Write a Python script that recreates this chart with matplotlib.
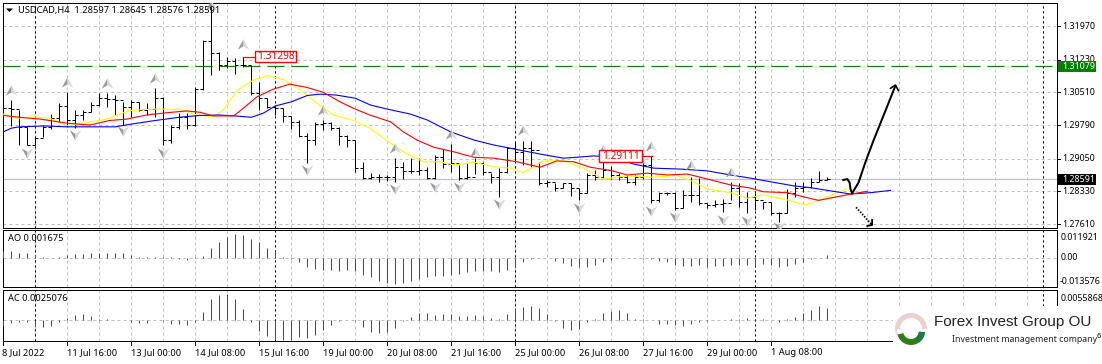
import matplotlib
matplotlib.use("Agg")
import matplotlib.pyplot as plt
import numpy as np
from matplotlib.path import Path
from matplotlib.patches import Rectangle, Wedge, Polygon

plt.rcParams['font.family'] = ['Noto Sans', 'DejaVu Sans']
plt.rcParams['lines.scale_dashes'] = False

high = [1.3023,1.3034,1.3012,1.2975,1.2952,1.2979,1.3003,1.3027,1.3052,1.3012,1.3011,1.3030,1.3049,1.3049,1.3044,1.3030,1.3033,1.3030,1.3028,1.3060,
        1.3040,1.2979,1.3005,1.3005,1.3062,1.3166,1.3245,1.3139,1.3128,1.3126,1.31298,1.3111,1.3074,1.3038,1.3023,1.3016,1.2999,1.2989,1.2961,1.2985,
        1.2989,1.2986,1.2975,1.2957,1.2947,1.2898,1.2874,1.2871,1.2869,1.2906,1.2898,1.2906,1.2906,1.2887,1.2913,1.2926,1.2937,1.2891,1.2895,1.2906,
        1.2898,1.2873,1.2884,1.2931,1.2944,1.2944,1.2944,1.2898,1.2858,1.2851,1.2852,1.2851,1.2840,1.2874,1.2880,1.2902,1.2889,1.2873,1.2869,1.2869,
        1.2895,1.29111,1.2832,1.2832,1.2832,1.2836,1.2865,1.2862,1.2808,1.2813,1.2815,1.2854,1.2852,1.2832,1.2830,1.2810,1.2810,1.2788,1.2837,1.2854,
        1.2854,1.2862,1.2878,1.28645]
low = [1.2986,1.2977,1.2934,1.2934,1.2935,1.2952,1.2970,1.2986,1.2975,1.2973,1.2990,1.3008,1.3021,1.3018,1.3001,1.2979,1.2997,1.3010,1.3001,1.2997,
       1.2934,1.2940,1.2970,1.2970,1.2977,1.3056,1.3089,1.3100,1.3104,1.3091,1.3107,1.3045,1.3011,1.3016,1.3001,1.2986,1.2970,1.2953,1.2896,1.2934,
       1.2968,1.2968,1.2934,1.2931,1.2876,1.2860,1.2860,1.2854,1.2856,1.2854,1.2860,1.2873,1.2869,1.2860,1.2860,1.2884,1.2876,1.2858,1.2860,1.2871,
       1.2869,1.2851,1.2821,1.2873,1.2898,1.2891,1.2887,1.2847,1.2842,1.2834,1.2840,1.2823,1.2814,1.2829,1.2857,1.2862,1.2860,1.2858,1.2851,1.2847,
       1.2860,1.2807,1.2810,1.2825,1.2792,1.2796,1.2810,1.2803,1.2796,1.2799,1.2788,1.2814,1.2798,1.2785,1.2792,1.2793,1.2781,1.2766,1.2785,1.2821,
       1.2832,1.2840,1.2854,1.28576]
close = [1.3016,1.3014,1.2975,1.2934,1.2950,1.2975,1.2994,1.3021,1.2990,1.3001,1.3008,1.3023,1.3038,1.3036,1.3034,1.3018,1.3030,1.3012,1.3014,1.3038,
         1.2946,1.2975,1.2997,1.2979,1.3058,1.3165,1.3137,1.3111,1.3121,1.3111,1.3111,1.3049,1.3038,1.3018,1.3016,1.2999,1.2986,1.2955,1.2946,1.2981,
         1.2984,1.2973,1.2955,1.2946,1.2884,1.2862,1.2865,1.2864,1.2865,1.2887,1.2878,1.2878,1.2880,1.2862,1.2909,1.2893,1.2895,1.2862,1.2865,1.2895,
         1.2876,1.2865,1.2876,1.2928,1.2920,1.2928,1.2924,1.2851,1.2854,1.2840,1.2851,1.2840,1.2830,1.2869,1.2865,1.2880,1.2869,1.2864,1.2854,1.2865,
         1.2891,1.2814,1.2829,1.2830,1.2796,1.2825,1.2825,1.2807,1.2803,1.2805,1.2807,1.2840,1.2810,1.2821,1.2814,1.2809,1.2785,1.2786,1.2830,1.2840,
         1.2843,1.2854,1.2858,1.28591]
first_open = 1.3020
open_ = [first_open] + close[:-1]

blue_x = [0,1,2,5,8,14,16,19,22,24.5,27,29,31,32.5,34,36,38,39.6,41.6,44,45.9,48,50.9,53,55.9,58.8,61.3,64.2,67.1,70,71.7,73.8,76.3,78.8,81.3,84.6,88,90.9,93.4,95.9,98.8,100.9,103.4,105.9,108.4,110.9]
blue_y = [1.2964,1.2972,1.2975,1.2977,1.2975,1.2975,1.2981,1.2989,1.2996,1.3000,1.3001,1.2999,1.2996,1.3005,1.3021,1.3030,1.3044,1.3047,1.3045,1.3038,1.3023,1.3014,1.3003,1.2990,1.2964,1.2946,1.2935,1.2925,1.2915,1.2906,1.2908,1.2911,1.2908,1.2893,1.2884,1.2882,1.2878,1.2869,1.2862,1.2854,1.2845,1.2841,1.2834,1.2827,1.2830,1.2835]
red_x = [0,2,4.6,8,10.8,13.3,15.4,17.9,20.4,22.9,24.6,26.2,28.8,30,31.7,33.75,35.8,37.9,40,42.1,43.75,45.8,48.4,50,51.7,53.8,56.3,58.8,61.3,64.2,67.1,69.2,71.3,73.4,75.9,78,80.5,83,85.5,88,90.9,93.4,95,98,100,101.9,104.2,106,108]
red_y = [1.3000,1.2996,1.2992,1.2983,1.2979,1.2989,1.2992,1.3001,1.3006,1.3010,1.3007,1.2999,1.2999,1.3016,1.3041,1.3058,1.3069,1.3062,1.3051,1.3030,1.3016,1.3001,1.2986,1.2964,1.2946,1.2930,1.2920,1.2908,1.2906,1.2898,1.2886,1.2900,1.2898,1.2886,1.2879,1.2869,1.2873,1.2869,1.2871,1.2860,1.2847,1.2840,1.2832,1.2830,1.2821,1.2813,1.2821,1.2827,1.2833]
yellow_x = [0,1.7,3.75,5.8,8,10.4,12.9,15.8,18.75,22,24.2,26.25,27.5,29.2,31.25,33.1,35,37,39.2,41.25,43.75,45.8,48.4,50,52.5,54.6,56.3,58.8,61.3,63.4,65,67.5,70,72.5,75,78,81.3,84.2,86.3,88,90.9,93,95,98,100.2,102,105.4]
yellow_y = [1.3003,1.2994,1.2997,1.2994,1.2977,1.2984,1.2992,1.3011,1.3014,1.3014,1.3001,1.2997,1.3012,1.3055,1.3078,1.3088,1.3079,1.3058,1.3027,1.3001,1.2989,1.2972,1.2939,1.2920,1.2898,1.2898,1.2891,1.2897,1.2887,1.2884,1.2874,1.2900,1.2900,1.2884,1.2860,1.2867,1.2864,1.2868,1.2854,1.2838,1.2830,1.2818,1.2825,1.2814,1.2803,1.2814,1.2838]

frac_up_x = [1,8,13,19,26,30,40,49,56,59,65,75,81,86,91]
frac_up_y = [1.3056,1.3073,1.3071,1.3082,1.3243,1.3157,1.3012,1.2928,1.2959,1.2920,1.2967,1.2925,1.2933,1.2891,1.2876]
frac_dn_x = [3,9,15,20,38,49,54,57,62,72,81,84,90,93,97]
frac_dn_y = [1.2917,1.2957,1.2966,1.2917,1.2880,1.2838,1.2842,1.2842,1.2805,1.2797,1.2790,1.2776,1.2770,1.2768,1.2755]

ao = [.0039,.0037,.0029,.0025,.0015,.0006,.0000,.0002,.0014,.0019,.0023,.0025,.0026,.0024,.0025,.0024,.0017,.0006,.0005,.0006,
      .0002,.0001,-.0006,-.0012,.0004,.0012,.0058,.0089,.0120,.0135,.0129,.0106,.0091,.0058,.0039,.0006,-.0006,-.0023,-.0054,-.0064,
      -.0071,-.0073,-.0077,-.0071,-.0081,-.0100,-.0116,-.0135,-.0149,-.0154,-.0147,-.0135,-.0125,-.0116,-.0110,-.0106,-.0100,-.0097,-.0087,-.0078,
      -.0077,-.0081,-.0082,-.0072,-.0054,-.0025,-.0008,.0000,-.0004,-.0019,-.0031,-.0048,-.0056,-.0054,-.0042,-.0027,-.0015,-.0004,-.0002,-.0003,
      -.0006,-.0008,-.0019,-.0027,-.0041,-.0048,-.0047,-.0046,-.0056,-.0048,-.0047,-.0046,-.0045,-.0044,-.0043,-.0039,-.0046,-.0054,-.0048,-.0037,
      -.0025,-.0006,-.0005,.001675]
ac = [-.0014,-.0007,-.0005,-.0006,-.0014,-.0015,-.0014,-.0005,.0003,.0010,.0011,.0007,.0002,.0001,.0000,-.0001,-.0006,-.0008,-.0007,-.0002,
      -.0003,-.0009,-.0010,-.0011,-.0005,.0015,.0043,.0051,.0054,.0043,.0022,-.0005,-.0025,-.0035,-.0042,-.0044,-.0043,-.0038,-.0039,-.0032,
      -.0022,-.0011,-.0004,-.0001,-.0003,-.0015,-.0027,-.0029,-.0027,-.0017,-.0003,.0006,.0014,.0013,.0010,.0012,.0011,.0007,.0008,.0010,
      .0007,.0004,.0002,.0012,.0024,.0027,.0028,.0025,.0012,-.0004,-.0018,-.0023,-.0020,-.0006,.0001,.0014,.0018,.0020,.0013,.0002,
      .0001,-.0001,-.0009,-.0010,-.0012,-.0013,-.0010,-.0005,-.0003,-.0001,.0000,.0001,.0002,.0003,.0002,.0001,.0000,-.0005,.0001,.0005,
      .0014,.0020,.0028,.0025]

price_levels = [1.31970,1.31230,1.30510,1.29790,1.29050,1.28330,1.27610]
price_labels = ["1.31970","1.31230","1.30510","1.29790","1.29050","1.28330","1.27610"]
date_bars = [0,8,16,24,32,40,48,56,64,72,80,88,96]
date_labels = ["8 Jul 2022","11 Jul 16:00","13 Jul 00:00","14 Jul 08:00","15 Jul 16:00","19 Jul 00:00",
               "20 Jul 08:00","21 Jul 16:00","25 Jul 00:00","26 Jul 08:00","27 Jul 16:00","29 Jul 00:00","1 Aug 08:00"]
period_seps = [4,34,64,94,130]
grid_bars = list(range(0,131,4))
resistance = 1.31079
bid = 1.28591

W, H = 1102, 364
PX = 0.72
fig = plt.figure(figsize=(W/100, H/100), dpi=100, facecolor='white')

def panel(x0, y0, x1, y1):
    return fig.add_axes([x0/W, 1-y1/H, (x1-x0)/W, (y1-y0)/H], facecolor='white')

XLIM = (-0.1, 131.65)
ax = panel(2.5, 2.5, 1056.5, 228)
ax.set_xlim(*XLIM); ax.set_ylim(1.27522, 1.32488)
a1 = panel(2.5, 229.5, 1056.5, 287)
a1.set_xlim(*XLIM); a1.set_ylim(-.0172, .0164)
a2 = panel(2.5, 289.5, 1056.5, 341)
a2.set_xlim(*XLIM); a2.set_ylim(-.00455, .00637)

GRID = '#c0c0c0'
gdash = (0, (3*PX, 3*PX))
bdash = (0, (2.2*PX, 2.8*PX))
for a in (ax, a1, a2):
    a.set_xticks([]); a.set_yticks([])
    for s in a.spines.values():
        s.set_linewidth(PX); s.set_color('black')
    a.vlines(grid_bars, *a.get_ylim(), color=GRID, lw=PX, linestyle=gdash, zorder=1, snap=True)
    a.vlines(period_seps, *a.get_ylim(), color='black', lw=PX, linestyle=bdash, zorder=2, snap=True)

ax.hlines(price_levels, *XLIM, color=GRID, lw=PX, linestyle=gdash, zorder=1, snap=True)
ax.axhline(bid, color='#c0c0c0', lw=PX*1.2, zorder=1.5)
ax.axhline(resistance, color='#008000', lw=PX*1.2, linestyle=(0, (17*PX, 7*PX)), zorder=2)
a1.axhline(0, color=GRID, lw=PX, linestyle=gdash, zorder=1)
a2.axhline(0, color=GRID, lw=PX, linestyle=gdash, zorder=1)

idx = np.arange(len(high))
ax.vlines(idx, low, high, color='black', lw=PX, zorder=3, snap=True)
ax.hlines(open_, idx-0.38, idx, color='black', lw=PX, zorder=3, snap=True)
ax.hlines(close, idx, idx+0.38, color='black', lw=PX, zorder=3, snap=True)

ax.plot(yellow_x, yellow_y, color='#ffff00', lw=PX*1.1, zorder=4, solid_joinstyle='round')
ax.plot(red_x, red_y, color='#ff0000', lw=PX*1.1, zorder=4.2, solid_joinstyle='round')
ax.plot(blue_x, blue_y, color='#0000ff', lw=PX*1.1, zorder=4.1, solid_joinstyle='round')

left_up = Path([(0,0.9),(0,-0.3),(-1,-0.9),(0,0.9)])
right_up = Path([(0,0.9),(0,-0.3),(1,-0.9),(0,0.9)])
left_dn = Path([(0,-0.9),(0,0.3),(-1,0.9),(0,-0.9)])
right_dn = Path([(0,-0.9),(0,0.3),(1,0.9),(0,-0.9)])
for xs, ys, L, R in ((frac_up_x, frac_up_y, left_up, right_up), (frac_dn_x, frac_dn_y, left_dn, right_dn)):
    ax.scatter(xs, ys, marker=L, s=68, color='#9a9a9a', linewidths=0, zorder=5)
    ax.scatter(xs, ys, marker=R, s=68, color='#d4dae0', linewidths=0, zorder=5)

# hand-drawn scenario arrows (bar index, price)
hook_x = [105.0,105.5,105.8,105.9,106.1,106.9,107.8,108.8,110.1,111.5]
hook_y = [1.28579,1.28600,1.28520,1.28380,1.28286,1.28521,1.28990,1.29460,1.30030,1.30649]
head_x = [110.9,111.5,111.9]
head_y = [1.30598,1.30671,1.30547]
dot_x = [106.6,108.6]
dot_y = [1.27977,1.27589]
dothead_x = [108.0,108.6,108.6]
dothead_y = [1.27567,1.27589,1.27699]
ax.plot(hook_x, hook_y, color='black', lw=PX*2, zorder=6, solid_joinstyle='round')
ax.plot(head_x, head_y, color='black', lw=PX*1.6, zorder=6)
ax.plot(dot_x, dot_y, color='black', lw=PX*1.8, linestyle=(0, (1.5*PX, 1.5*PX)), zorder=6)
ax.plot(dothead_x, dothead_y, color='black', lw=PX*1.8, zorder=6)

def colors(v, first):
    return [first if i == 0 else ('#ff0000' if v[i] < v[i-1] else '#008000') for i in range(len(v))]
a1.vlines(idx, 0, ao, colors=colors(ao, '#ff0000'), lw=PX, zorder=3, snap=True)
a2.vlines(idx, 0, ac, colors=colors(ac, '#008000'), lw=PX, zorder=3, snap=True)

# pixel overlay for labels
ov = fig.add_axes([0, 0, 1, 1], zorder=20)
ov.set_xlim(0, W); ov.set_ylim(H, 0); ov.axis('off'); ov.patch.set_alpha(0)
FS = 6.7
def T(x, y, s, c='black', ha='left', fs=FS, **k):
    return ov.text(x, y, s, color=c, ha=ha, va='center', fontsize=fs, **k)

ov.add_patch(Polygon([(6, 8.5), (13, 8.5), (9.5, 12)], color='black', lw=0))
T(18, 10, "USDCAD,H4  1.28597 1.28645 1.28576 1.28591")
T(8, 238.5, "AO 0.001675")
T(8, 298.5, "AC 0.0025076")

def price_y(p):
    return (1.32488 - p) / (1.32488 - 1.27522) * (228 - 2.5) + 2.5
for p, s in zip(price_levels, price_labels):
    y = price_y(p)
    ov.plot([1056.5, 1060], [y, y], color='black', lw=PX)
    T(1062.5, y, s, fs=6.4)
for y_, c_, s_ in ((price_y(resistance), '#008000', "1.31079"), (price_y(bid), 'black', "1.28591")):
    ov.add_patch(Rectangle((1058, y_-5.5), 38, 11, color=c_, lw=0, zorder=3))
    T(1062.5, y_, s_, c='white', fs=6.4, zorder=4)
T(1061, 237.5, "0.011921", fs=6.4)
T(1061, 257.5, "0.00", fs=6.4)
T(1059.5, 281, "-0.013576", fs=6.4)
T(1061, 298.5, "0.0055868", fs=6.4)

for b, s in zip(date_bars, date_labels):
    x = 3.3 + 8*b
    ov.plot([x, x], [341, 345], color='black', lw=PX)
    T(x if b else 2, 352.5, s)

# callouts
for x0, y0, x1, y1, xl, s in ((255, 51, 296, 62, 243, "1.31298"), (599, 150, 642, 162, 652, "1.29111")):
    ov.plot([xl, x0 if xl < x0 else x1], [(y0+y1)/2]*2, color='#ff0000', lw=PX*1.2, zorder=3)
    ov.add_patch(Rectangle((x0, y0), x1-x0, y1-y0, fc='white', ec='#ff0000', lw=PX*1.4, zorder=4))
    T((x0+x1)/2, (y0+y1)/2+0.3, s, c='#ff0000', ha='center', fs=7.3, zorder=5)

# logo block
ov.add_patch(Rectangle((893, 306), W-893, H-306, fc='white', ec='none', zorder=6))
ov.add_patch(Wedge((911, 329), 16, 180, 360, width=5, fc='#ecd0cc', ec='none', zorder=7))
ov.add_patch(Wedge((911, 329), 16, 155, 180, width=2, fc='#e8dcd0', ec='none', zorder=7))
ov.add_patch(Wedge((911, 331), 14, 5, 165, width=6, fc='#2f7d16', ec='none', zorder=7))
ov.add_patch(Wedge((911, 331), 14, 5, 55, width=6, fc='#1c7a4a', ec='none', zorder=7.1))
T(934, 322, "Forex Invest Group OU", c='#222222', fs=11, family=['Liberation Sans', 'DejaVu Sans'], zorder=8)
T(952, 339, "Investment management company", c='#222222', fs=6.3, zorder=8)
T(1096.5, 336, "6", fs=5.6, zorder=8)

fig.savefig("out.png", dpi=100, facecolor='white')
